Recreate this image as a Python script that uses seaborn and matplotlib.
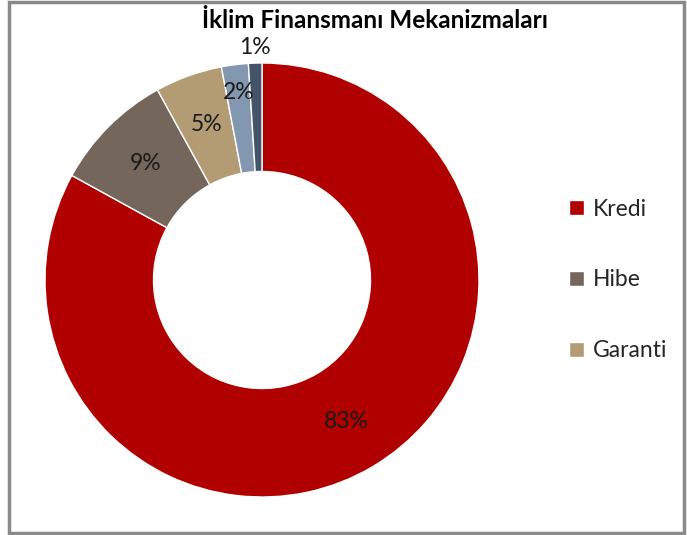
import numpy as np
import matplotlib
matplotlib.use('Agg')
import matplotlib.pyplot as plt
from matplotlib.patches import Rectangle
import seaborn as sns

categories = ['Kredi', 'Hibe', 'Garanti', 'Sermaye', 'Diğer']
shares = [83, 9, 5, 2, 1]
colors = ['#B00000', '#74665B', '#B39B74', '#8497B0', '#44546A']
legend_items = ['Kredi', 'Hibe', 'Garanti']

sns.set_theme(style='white')
plt.rcParams['font.family'] = ['Lato', 'DejaVu Sans']

fig = plt.figure(figsize=(6.87, 5.35), dpi=100)
ax = fig.add_axes([45 / 687, 38 / 535, 434 / 687, 434 / 535])

wedges, _ = ax.pie(shares, colors=colors, startangle=90, counterclock=False,
                   radius=1, wedgeprops=dict(width=0.5, edgecolor='white', linewidth=1))
ax.set_xlim(-1, 1)
ax.set_ylim(-1, 1)
ax.axis('off')

# label radius for each slice (small ones sit farther out)
label_r = [0.76, 0.76, 0.76, 0.87, 1.07]
for w, s, r in zip(wedges, shares, label_r):
    ang = np.deg2rad((w.theta1 + w.theta2) / 2)
    ax.text(r * np.cos(ang), r * np.sin(ang), f'{s}%', ha='center', va='center',
            fontsize=16.5, color='#1a1a1a', clip_on=False)

fig.text(375 / 687, 1 - 21 / 535, 'İklim Finansmanı Mekanizmaları', ha='center', va='center',
         fontsize=17.5, fontweight='bold', color='#000000')

handles = [wedges[categories.index(c)] for c in legend_items]
fig.legend(handles, legend_items, loc='center left', bbox_to_anchor=(548 / 687, 1 - 280 / 535),
           frameon=False, fontsize=16.5, handlelength=0.65, handleheight=0.65,
           handletextpad=0.4, labelspacing=2.17)

fig.patches.append(Rectangle((8.5 / 687, 2 / 535), 675.5 / 687, 531 / 535, transform=fig.transFigure,
                             fill=False, edgecolor='#898989', linewidth=2.5))

fig.savefig('out.png', dpi=100)
